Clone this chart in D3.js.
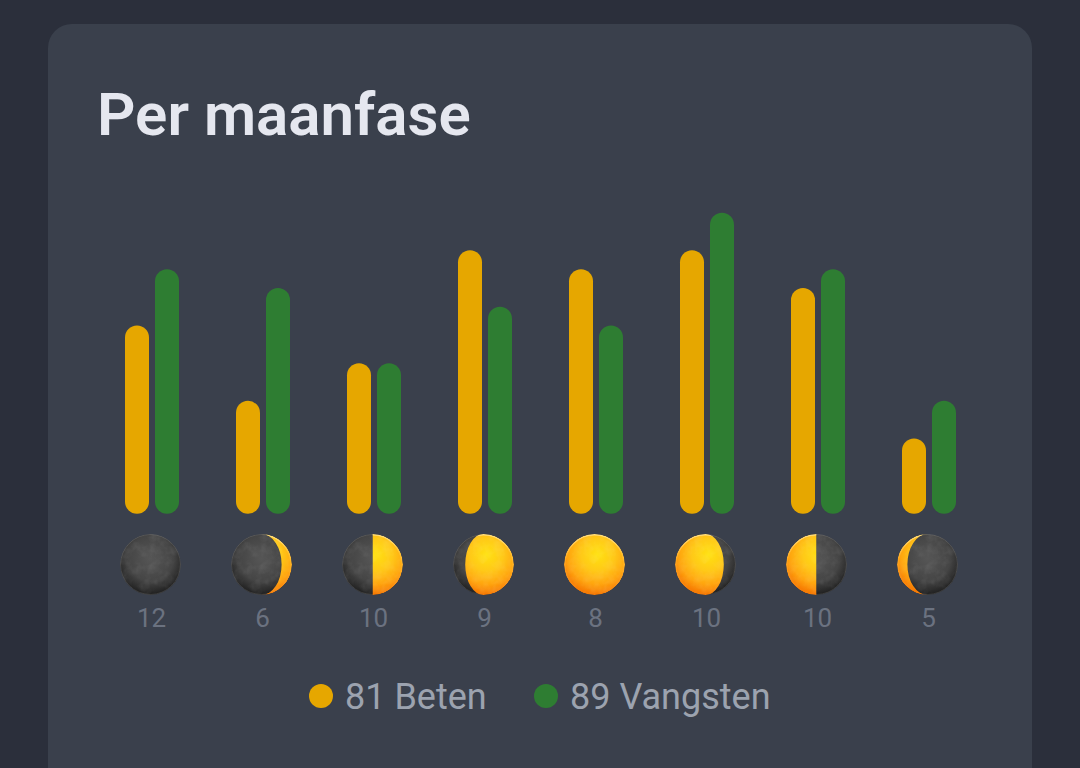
<!DOCTYPE html>
<meta charset="utf-8">
<style>
  html, body { margin: 0; background: #2b2f3b; overflow: hidden; }
  text { font-family: Roboto, sans-serif; }
</style>

<div id="my_dataviz"></div>

<script src="https://d3js.org/d3.v7.min.js"></script>
<script>

// the data
var phases = ["new", "waxingCrescent", "firstQuarter", "waxingGibbous", "full", "waningGibbous", "lastQuarter", "waningCrescent"];
var beten = [10, 6, 8, 14, 13, 14, 12, 4];
var vangsten = [13, 12, 8, 11, 10, 16, 13, 6];
var counts = ["12", "6", "10", "9", "8", "10", "10", "5"];
var litFraction = [0, 0.17, 0.5, 0.8, 1, 0.8, 0.5, 0.17];
var litSide = [1, 1, 1, 1, 1, -1, -1, -1];   // 1 = lit on the right, -1 = lit on the left
var legendLabels = ["81 Beten", "89 Vangsten"];
var seriesColors = ["#e6a700", "#2e7d32"];

var width = 1080, height = 768;
var moonY = 564.5, moonR = 30.5;

var svg = d3.select("#my_dataviz")
  .append("svg")
    .attr("width", width)
    .attr("height", height)
    .style("display", "block");

var defs = svg.append("defs");

// lit part of the moon, gradient runs over the whole disc
var litGrad = defs.append("radialGradient")
    .attr("id", "litGrad")
    .attr("gradientUnits", "userSpaceOnUse")
    .attr("cx", 3).attr("cy", -10).attr("r", moonR * 1.35);
litGrad.append("stop").attr("offset", "0%").attr("stop-color", "#ffe10f");
litGrad.append("stop").attr("offset", "40%").attr("stop-color", "#ffc918");
litGrad.append("stop").attr("offset", "72%").attr("stop-color", "#ffa50e");
litGrad.append("stop").attr("offset", "100%").attr("stop-color", "#f57200");

// pale rim at the top of the lit part
var rimGrad = defs.append("linearGradient")
    .attr("id", "rimGrad")
    .attr("gradientUnits", "userSpaceOnUse")
    .attr("x1", 0).attr("y1", -moonR).attr("x2", 0).attr("y2", moonR);
rimGrad.append("stop").attr("offset", "0%").attr("stop-color", "#ffeeb8").attr("stop-opacity", 0.65);
rimGrad.append("stop").attr("offset", "45%").attr("stop-color", "#ffd870").attr("stop-opacity", 0.2);
rimGrad.append("stop").attr("offset", "100%").attr("stop-color", "#f67a00").attr("stop-opacity", 0.3);

// dark part of the moon
var darkGrad = defs.append("radialGradient")
    .attr("id", "darkGrad")
    .attr("gradientUnits", "userSpaceOnUse")
    .attr("cx", 0).attr("cy", -6).attr("r", moonR * 1.15);
darkGrad.append("stop").attr("offset", "0%").attr("stop-color", "#565656");
darkGrad.append("stop").attr("offset", "65%").attr("stop-color", "#454545");
darkGrad.append("stop").attr("offset", "100%").attr("stop-color", "#222222");

// blotchy moon surface
function addBlotch(id, seed) {
  var f = defs.append("filter")
      .attr("id", id)
      .attr("x", "0").attr("y", "0").attr("width", "1").attr("height", "1");
  f.append("feTurbulence")
      .attr("type", "fractalNoise")
      .attr("baseFrequency", "0.1")
      .attr("numOctaves", "3")
      .attr("seed", seed)
      .attr("result", "noise");
  f.append("feColorMatrix")
      .attr("in", "noise")
      .attr("type", "matrix")
      .attr("values", "0 0 0 0 1  0 0 0 0 1  0 0 0 0 1  1.6 0 0 0 -0.62");
}
addBlotch("blotchDark", 4);
addBlotch("blotchLit", 9);

// page background and card
svg.append("rect")
    .attr("width", width).attr("height", height)
    .attr("fill", "#2b2f3b");
svg.append("rect")
    .attr("x", 48).attr("y", 24)
    .attr("width", 984).attr("height", 790)
    .attr("rx", 24)
    .attr("fill", "#3a404c");

svg.append("text")
    .attr("x", 97).attr("y", 135)
    .attr("font-size", 60)
    .attr("font-weight", 600)
    .attr("fill", "#e5e7ef")
    .text("Per maanfase");

// scales
var x = d3.scalePoint().domain(phases).range([151, 928]);
var y = d3.scaleLinear().domain([0, 16]).range([513.7, 212.7]);

var barWidth = 24, barGap = 6;

[beten, vangsten].forEach(function(values, s) {
  svg.append("g")
    .selectAll("rect")
    .data(values)
    .enter()
    .append("rect")
      .attr("x", function(d, i) { return x(phases[i]) + (s == 0 ? -barGap / 2 - barWidth : barGap / 2) + 1; })
      .attr("y", function(d) { return y(d); })
      .attr("width", barWidth)
      .attr("height", function(d) { return y(0) - y(d); })
      .attr("rx", barWidth / 2)
      .attr("fill", seriesColors[s]);
});

// moons
function litPath(f) {
  // right half of the disc, then back along the terminator ellipse
  if (f == 1) {
    return "M0," + (-moonR) + "A" + moonR + "," + moonR + " 0 1 1 0," + moonR +
      "A" + moonR + "," + moonR + " 0 1 1 0," + (-moonR) + "Z";
  }
  var t = (1 - 2 * f) * moonR;
  return "M0," + (-moonR) +
    "A" + moonR + "," + moonR + " 0 0 1 0," + moonR +
    "A" + Math.abs(t) + "," + moonR + " 0 0 " + (t > 0 ? 0 : 1) + " 0," + (-moonR) + "Z";
}

defs.append("clipPath").attr("id", "disc")
  .append("circle").attr("r", moonR);

phases.forEach(function(p, i) {
  defs.append("clipPath").attr("id", "lit" + i)
    .append("path")
      .attr("d", litPath(litFraction[i]))
      .attr("transform", "scale(" + litSide[i] + ",1)");
});

var moons = svg.append("g")
  .selectAll("g")
  .data(phases)
  .enter()
  .append("g")
    .attr("transform", function(d) { return "translate(" + (x(d) - 0.5) + "," + moonY + ")"; })
    .attr("clip-path", "url(#disc)");

moons.append("circle")
    .attr("r", moonR)
    .attr("fill", "url(#darkGrad)");

moons.append("rect")
    .attr("x", -moonR).attr("y", -moonR)
    .attr("width", moonR * 2).attr("height", moonR * 2)
    .attr("filter", "url(#blotchDark)")
    .attr("opacity", 0.1);

moons.append("circle")
    .attr("r", moonR - 0.5)
    .attr("fill", "none")
    .attr("stroke", "#ffffff")
    .attr("stroke-opacity", 0.12);

var lit = moons.filter(function(d, i) { return litFraction[i] > 0; })
  .append("g")
    .attr("clip-path", function(d) { return "url(#lit" + phases.indexOf(d) + ")"; });

lit.append("circle")
    .attr("r", moonR)
    .attr("fill", "url(#litGrad)");

lit.append("rect")
    .attr("x", -moonR).attr("y", -moonR)
    .attr("width", moonR * 2).attr("height", moonR * 2)
    .attr("filter", "url(#blotchLit)")
    .attr("opacity", 0.13);

lit.append("circle")
    .attr("r", moonR - 0.8)
    .attr("fill", "none")
    .attr("stroke", "url(#rimGrad)")
    .attr("stroke-width", 1.6);

// count labels under the moons
var axis = svg.append("g")
    .attr("transform", "translate(0,609)")
    .call(d3.axisBottom(x).tickSize(0).tickPadding(0).tickFormat(function(d, i) { return counts[i]; }));
axis.select(".domain").remove();
axis.selectAll("text")
    .attr("font-size", 26)
    .attr("font-family", "Roboto, sans-serif")
    .attr("fill", "#6b7280")
    .attr("dy", "0.71em");

// legend
var legendX = [321, 546];
var legend = svg.append("g")
  .selectAll("g")
  .data(legendLabels)
  .enter()
  .append("g")
    .attr("transform", function(d, i) { return "translate(" + legendX[i] + ",696)"; });
legend.append("circle")
    .attr("r", 12)
    .attr("fill", function(d, i) { return seriesColors[i]; });
legend.append("text")
    .attr("x", 24).attr("y", 13)
    .attr("font-size", 36)
    .attr("fill", "#9ca3af")
    .text(function(d) { return d; });

</script>
